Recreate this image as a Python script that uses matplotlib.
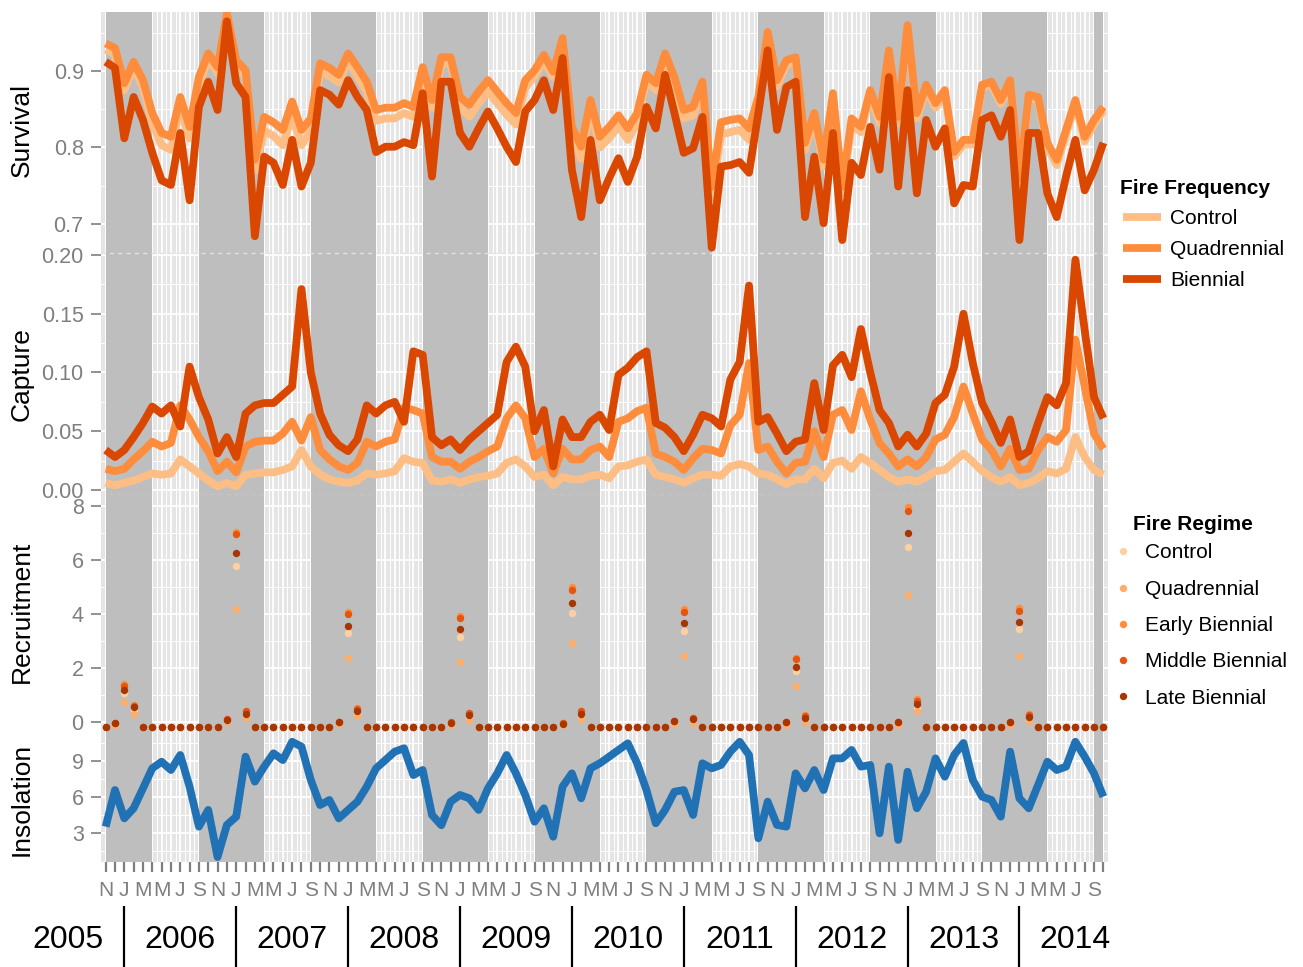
import numpy as np
import matplotlib
matplotlib.use('Agg')
import matplotlib.pyplot as plt
import matplotlib.transforms as mtransforms

plt.rcParams['font.family'] = ['Liberation Sans', 'DejaVu Sans']

# ---------------- data (monthly, Nov 2005 .. Oct 2014) ----------------
month_initials = ['N', 'D', 'J', 'F', 'M', 'A', 'M', 'J', 'J', 'A', 'S', 'O']
years = ['2005', '2006', '2007', '2008', '2009', '2010', '2011', '2012', '2013', '2014']
wet_seasons = [(0, 5), (10, 17), (22, 29), (34, 41), (46, 53), (58, 65),
               (70, 77), (82, 89), (94, 101), (106, 107)]

surv_control = [
    0.928, 0.922, 0.875, 0.905, 0.878, 0.832, 0.803, 0.797, 0.852, 0.812, 0.882, 0.915,
    0.897, 0.970, 0.908, 0.893, 0.770, 0.822, 0.815, 0.803, 0.842, 0.803, 0.822, 0.900,
    0.893, 0.885, 0.913, 0.893, 0.873, 0.835, 0.838, 0.838, 0.845, 0.840, 0.895, 0.852,
    0.910, 0.910, 0.853, 0.840, 0.858, 0.873, 0.858, 0.843, 0.830, 0.878, 0.893, 0.913,
    0.892, 0.935, 0.815, 0.785, 0.850, 0.800, 0.812, 0.828, 0.810, 0.832, 0.888, 0.875,
    0.915, 0.882, 0.838, 0.842, 0.878, 0.735, 0.817, 0.820, 0.823, 0.810, 0.855, 0.945,
    0.880, 0.908, 0.912, 0.797, 0.838, 0.775, 0.863, 0.740, 0.830, 0.820, 0.868, 0.832,
    0.920, 0.832, 0.955, 0.838, 0.876, 0.852, 0.870, 0.788, 0.804, 0.804, 0.878, 0.882,
    0.857, 0.883, 0.755, 0.865, 0.862, 0.800, 0.777, 0.817, 0.857, 0.808, 0.830, 0.848]
surv_quad = [
    0.936, 0.930, 0.884, 0.912, 0.888, 0.845, 0.819, 0.814, 0.866, 0.827, 0.892, 0.923,
    0.905, 0.975, 0.914, 0.901, 0.784, 0.840, 0.833, 0.823, 0.860, 0.823, 0.838, 0.910,
    0.904, 0.895, 0.923, 0.905, 0.886, 0.849, 0.852, 0.852, 0.858, 0.853, 0.905, 0.862,
    0.918, 0.918, 0.866, 0.856, 0.873, 0.888, 0.873, 0.858, 0.845, 0.888, 0.901, 0.921,
    0.899, 0.943, 0.827, 0.801, 0.862, 0.814, 0.827, 0.842, 0.825, 0.845, 0.895, 0.884,
    0.923, 0.892, 0.849, 0.853, 0.886, 0.749, 0.833, 0.836, 0.838, 0.825, 0.866, 0.951,
    0.888, 0.914, 0.918, 0.806, 0.845, 0.784, 0.871, 0.749, 0.838, 0.827, 0.875, 0.840,
    0.927, 0.840, 0.960, 0.845, 0.882, 0.858, 0.875, 0.794, 0.810, 0.810, 0.882, 0.886,
    0.862, 0.888, 0.760, 0.869, 0.866, 0.806, 0.784, 0.823, 0.862, 0.814, 0.836, 0.853]
surv_bien = [
    0.912, 0.904, 0.812, 0.866, 0.836, 0.793, 0.757, 0.751, 0.819, 0.731, 0.853, 0.886,
    0.849, 0.965, 0.884, 0.866, 0.684, 0.788, 0.780, 0.751, 0.810, 0.749, 0.780, 0.875,
    0.869, 0.856, 0.888, 0.866, 0.849, 0.794, 0.801, 0.801, 0.807, 0.803, 0.871, 0.762,
    0.886, 0.886, 0.819, 0.801, 0.825, 0.847, 0.825, 0.801, 0.781, 0.847, 0.862, 0.888,
    0.849, 0.917, 0.771, 0.709, 0.810, 0.731, 0.760, 0.786, 0.755, 0.788, 0.853, 0.825,
    0.895, 0.845, 0.793, 0.799, 0.840, 0.669, 0.775, 0.777, 0.781, 0.767, 0.845, 0.927,
    0.823, 0.879, 0.886, 0.709, 0.788, 0.701, 0.819, 0.679, 0.780, 0.764, 0.827, 0.771,
    0.892, 0.749, 0.875, 0.740, 0.836, 0.801, 0.825, 0.727, 0.751, 0.749, 0.836, 0.842,
    0.814, 0.849, 0.679, 0.819, 0.819, 0.740, 0.709, 0.762, 0.810, 0.744, 0.771, 0.806]

cap_control = [
    0.006, 0.004, 0.006, 0.008, 0.011, 0.014, 0.013, 0.014, 0.026, 0.020, 0.014, 0.008,
    0.003, 0.006, 0.003, 0.013, 0.014, 0.015, 0.015, 0.017, 0.020, 0.034, 0.020, 0.013,
    0.009, 0.007, 0.006, 0.008, 0.014, 0.013, 0.014, 0.016, 0.027, 0.024, 0.023, 0.008,
    0.007, 0.009, 0.006, 0.009, 0.011, 0.012, 0.014, 0.023, 0.026, 0.020, 0.011, 0.013,
    0.004, 0.011, 0.009, 0.009, 0.012, 0.013, 0.010, 0.020, 0.021, 0.024, 0.026, 0.013,
    0.011, 0.009, 0.006, 0.010, 0.013, 0.013, 0.012, 0.020, 0.022, 0.020, 0.014, 0.013,
    0.009, 0.005, 0.009, 0.009, 0.018, 0.010, 0.023, 0.025, 0.018, 0.028, 0.023, 0.017,
    0.011, 0.007, 0.009, 0.007, 0.011, 0.016, 0.017, 0.024, 0.031, 0.024, 0.016, 0.011,
    0.007, 0.011, 0.004, 0.006, 0.010, 0.016, 0.014, 0.018, 0.045, 0.028, 0.017, 0.013]
cap_quad = [
    0.018, 0.016, 0.018, 0.026, 0.033, 0.041, 0.037, 0.040, 0.072, 0.060, 0.045, 0.033,
    0.016, 0.024, 0.015, 0.037, 0.041, 0.042, 0.042, 0.048, 0.058, 0.042, 0.062, 0.034,
    0.026, 0.020, 0.017, 0.023, 0.041, 0.037, 0.041, 0.043, 0.070, 0.068, 0.065, 0.028,
    0.024, 0.024, 0.018, 0.024, 0.028, 0.033, 0.037, 0.061, 0.072, 0.061, 0.028, 0.035,
    0.014, 0.035, 0.026, 0.026, 0.034, 0.037, 0.028, 0.058, 0.061, 0.067, 0.070, 0.031,
    0.028, 0.024, 0.017, 0.027, 0.035, 0.034, 0.031, 0.055, 0.064, 0.108, 0.034, 0.037,
    0.024, 0.014, 0.023, 0.024, 0.050, 0.028, 0.064, 0.068, 0.051, 0.084, 0.060, 0.040,
    0.031, 0.020, 0.026, 0.020, 0.028, 0.043, 0.047, 0.062, 0.088, 0.065, 0.043, 0.034,
    0.020, 0.035, 0.017, 0.018, 0.034, 0.045, 0.041, 0.051, 0.128, 0.088, 0.048, 0.035]
cap_bien = [
    0.034, 0.028, 0.034, 0.045, 0.057, 0.071, 0.065, 0.072, 0.054, 0.105, 0.079, 0.060,
    0.031, 0.045, 0.028, 0.065, 0.072, 0.074, 0.074, 0.081, 0.088, 0.171, 0.100, 0.065,
    0.047, 0.038, 0.033, 0.043, 0.072, 0.065, 0.072, 0.075, 0.058, 0.118, 0.115, 0.045,
    0.038, 0.043, 0.034, 0.043, 0.050, 0.057, 0.064, 0.109, 0.122, 0.105, 0.050, 0.068,
    0.020, 0.060, 0.045, 0.045, 0.058, 0.064, 0.051, 0.098, 0.104, 0.113, 0.118, 0.057,
    0.053, 0.045, 0.033, 0.047, 0.064, 0.061, 0.054, 0.094, 0.109, 0.174, 0.058, 0.062,
    0.048, 0.033, 0.041, 0.043, 0.091, 0.051, 0.106, 0.115, 0.096, 0.137, 0.100, 0.068,
    0.057, 0.037, 0.047, 0.037, 0.048, 0.074, 0.081, 0.105, 0.150, 0.108, 0.074, 0.058,
    0.040, 0.060, 0.028, 0.033, 0.057, 0.079, 0.072, 0.091, 0.196, 0.136, 0.079, 0.061]

B = -0.2  # baseline recruitment level shown in the chart
rec_control = [
    B, -0.10, 1.06, 0.45, B, B, B, B, B, B, B, B,
    B, 0.05, 5.77, 0.20, B, B, B, B, B, B, B, B,
    B, -0.05, 3.28, 0.25, B, B, B, B, B, B, B, B,
    B, -0.10, 3.16, 0.15, B, B, B, B, B, B, B, B,
    B, -0.10, 4.05, 0.20, B, B, B, B, B, B, B, B,
    B, -0.05, 3.38, 0.00, B, B, B, B, B, B, B, B,
    B, -0.05, 1.90, 0.05, B, B, B, B, B, B, B, B,
    B, -0.05, 6.49, 0.50, B, B, B, B, B, B, B, B,
    B, -0.05, 3.43, 0.10, B, B, B, B, B, B, B, B]
rec_quad = [
    B, -0.10, 0.73, 0.30, B, B, B, B, B, B, B, B,
    B, 0.00, 4.17, 0.16, B, B, B, B, B, B, B, B,
    B, -0.08, 2.36, 0.22, B, B, B, B, B, B, B, B,
    B, -0.10, 2.23, 0.08, B, B, B, B, B, B, B, B,
    B, -0.10, 2.91, 0.11, B, B, B, B, B, B, B, B,
    B, -0.08, 2.44, -0.05, B, B, B, B, B, B, B, B,
    B, -0.10, 1.35, 0.00, B, B, B, B, B, B, B, B,
    B, -0.10, 4.69, 0.41, B, B, B, B, B, B, B, B,
    B, -0.10, 2.44, 0.05, B, B, B, B, B, B, B, B]
rec_early = [
    B, -0.05, 1.40, 0.63, B, B, B, B, B, B, B, B,
    B, 0.10, 7.05, 0.42, B, B, B, B, B, B, B, B,
    B, 0.00, 4.09, 0.50, B, B, B, B, B, B, B, B,
    B, 0.00, 3.93, 0.35, B, B, B, B, B, B, B, B,
    B, -0.05, 5.00, 0.42, B, B, B, B, B, B, B, B,
    B, 0.05, 4.20, 0.15, B, B, B, B, B, B, B, B,
    B, 0.00, 2.38, 0.25, B, B, B, B, B, B, B, B,
    B, 0.00, 7.95, 0.85, B, B, B, B, B, B, B, B,
    B, 0.00, 4.21, 0.28, B, B, B, B, B, B, B, B]
rec_middle = [
    B, -0.05, 1.33, 0.60, B, B, B, B, B, B, B, B,
    B, 0.10, 6.95, 0.40, B, B, B, B, B, B, B, B,
    B, 0.00, 3.99, 0.47, B, B, B, B, B, B, B, B,
    B, 0.00, 3.84, 0.32, B, B, B, B, B, B, B, B,
    B, -0.05, 4.89, 0.40, B, B, B, B, B, B, B, B,
    B, 0.05, 4.09, 0.13, B, B, B, B, B, B, B, B,
    B, 0.00, 2.33, 0.22, B, B, B, B, B, B, B, B,
    B, 0.00, 7.81, 0.79, B, B, B, B, B, B, B, B,
    B, 0.00, 4.12, 0.25, B, B, B, B, B, B, B, B]
rec_late = [
    B, -0.05, 1.19, 0.54, B, B, B, B, B, B, B, B,
    B, 0.08, 6.25, 0.30, B, B, B, B, B, B, B, B,
    B, 0.00, 3.57, 0.41, B, B, B, B, B, B, B, B,
    B, -0.02, 3.43, 0.26, B, B, B, B, B, B, B, B,
    B, -0.08, 4.40, 0.30, B, B, B, B, B, B, B, B,
    B, 0.04, 3.65, 0.10, B, B, B, B, B, B, B, B,
    B, 0.00, 2.05, 0.14, B, B, B, B, B, B, B, B,
    B, 0.00, 7.01, 0.67, B, B, B, B, B, B, B, B,
    B, 0.00, 3.69, 0.20, B, B, B, B, B, B, B, B]

insolation = [
    3.53, 6.58, 4.22, 5.06, 6.72, 8.39, 8.94, 8.25, 9.50, 6.86, 3.53, 4.92,
    1.00, 3.67, 4.36, 9.36, 7.28, 8.53, 9.64, 9.08, 10.60, 10.20, 7.42, 5.33,
    5.75, 4.22, 4.92, 5.61, 6.86, 8.39, 9.08, 9.78, 10.06, 7.83, 8.25, 4.50,
    3.65, 5.61, 6.17, 5.89, 4.92, 6.72, 7.97, 9.50, 7.97, 6.17, 3.94, 5.06,
    2.69, 6.86, 7.97, 5.89, 8.39, 8.81, 9.36, 9.92, 10.47, 8.81, 6.58, 3.81,
    4.92, 6.44, 6.58, 4.50, 8.81, 8.39, 8.67, 9.78, 10.60, 9.50, 2.56, 5.61,
    3.67, 3.53, 7.97, 6.72, 8.25, 6.58, 9.22, 9.22, 9.92, 8.53, 8.67, 2.97,
    8.53, 2.42, 8.11, 5.06, 6.44, 9.22, 7.69, 9.50, 10.50, 7.42, 6.03, 5.75,
    4.36, 9.78, 5.89, 5.06, 7.00, 8.94, 8.25, 8.53, 10.60, 9.36, 7.97, 6.03]

freq_labels = ['Control', 'Quadrennial', 'Biennial']
freq_colors = ['#FDBE85', '#FD8D3C', '#D94701']
regime_labels = ['Control', 'Quadrennial', 'Early Biennial', 'Middle Biennial', 'Late Biennial']
regime_colors = ['#FDD0A2', '#FDAE6B', '#FD8D3C', '#E6550D', '#A63603']
ins_color = '#2171B5'

x = np.arange(len(insolation))

# ---------------- layout ----------------
W, H = 1303, 967
fig = plt.figure(figsize=(W / 100, H / 100), dpi=100)


def fx(px):
    return px / W


def fy(py):
    return (H - py) / H


LEFT, RIGHT = 101, 1108
GREY_TXT = '#7F7F7F'


def make_ax(top, bottom):
    return fig.add_axes([fx(LEFT), fy(bottom), fx(RIGHT - LEFT), (bottom - top) / H])


def style(ax, ylim, majors, minors, labels):
    ax.set_facecolor('#E5E5E5')
    ax.set_xlim(-0.5, len(x) - 0.5)
    ax.set_ylim(*ylim)
    ax.set_yticks(majors)
    ax.set_yticklabels(labels)
    ax.set_yticks(minors, minor=True)
    ax.set_xticks(x)
    ax.set_xticks(x[:-1] + 0.5, minor=True)
    ax.grid(True, which='major', color='white', lw=1.3)
    ax.grid(True, which='minor', color='white', lw=0.7)
    ax.set_axisbelow(True)
    for s in ax.spines.values():
        s.set_visible(False)
    ax.tick_params(axis='y', which='major', length=7.5, width=1.2, color=GREY_TXT,
                   labelcolor=GREY_TXT, labelsize=15.5, pad=5)
    ax.tick_params(axis='y', which='minor', length=0)
    ax.tick_params(axis='x', which='both', length=0, labelbottom=False)
    for a, b in wet_seasons:
        ax.axvspan(a, b, color='#BEBEBE', lw=0, zorder=1)


ax_s = make_ax(12, 253)
ax_c = make_ax(253, 495)
ax_r = make_ax(495, 737)
ax_i = make_ax(737, 862)

style(ax_s, (0.6621, 0.9771), [0.7, 0.8, 0.9], [0.75, 0.85, 0.95], ['0.7', '0.8', '0.9'])
style(ax_c, (-0.0043, 0.2017), [0, 0.05, 0.10, 0.15, 0.20], [0.025, 0.075, 0.125, 0.175],
      ['0.00', '0.05', '0.10', '0.15', '0.20'])
style(ax_r, (-0.556, 8.407), [0, 2, 4, 6, 8], [1, 3, 5, 7], ['0', '2', '4', '6', '8'])
style(ax_i, (0.583, 11.0), [3, 6, 9], [1.5, 4.5, 7.5, 10.5], ['3', '6', '9'])

LW = 5.6
line_kw = dict(lw=LW, solid_joinstyle='round', solid_capstyle='butt', zorder=3)
freq_lines = []
for vals, col, lab in zip([surv_control, surv_quad, surv_bien], freq_colors, freq_labels):
    ln, = ax_s.plot(x, vals, color=col, label=lab, **line_kw)
    freq_lines.append(ln)
for vals, col in zip([cap_control, cap_quad, cap_bien], freq_colors):
    ax_c.plot(x, vals, color=col, **line_kw)

regime_handles = []
for vals, col, lab in zip([rec_control, rec_quad, rec_early, rec_middle, rec_late],
                          regime_colors, regime_labels):
    h, = ax_r.plot(x, vals, ls='none', marker='o', ms=5.3, mew=0, color=col, label=lab, zorder=3)
    regime_handles.append(h)

ax_i.plot(x, insolation, color=ins_color, **line_kw)

# dashed boundaries around the capture panel
for yy in (0, 1):
    ax_c.plot([0, 1], [yy, yy], transform=ax_c.transAxes, color='#E2E2E2', lw=1.0,
              ls=(0, (3, 3)), clip_on=False, zorder=2)

# bottom month axis
ax_i.tick_params(axis='x', which='major', length=7.5, width=1.6, color=GREY_TXT,
                 labelcolor=GREY_TXT, labelsize=15, pad=6, labelbottom=True)
ax_i.set_xticklabels([month_initials[i % 12] if i % 2 == 0 else '' for i in x])

# year labels and separators
blend = mtransforms.blended_transform_factory(ax_i.transData, fig.transFigure)
for k, yr in enumerate(years):
    ax_i.text(-4 + 12 * k, fy(940.5), yr, transform=blend, ha='center', va='center',
              fontsize=23, color='black', clip_on=False)
for k in range(len(years) - 1):
    xs = 2 + 12 * k
    ax_i.plot([xs, xs], [fy(906), fy(967)], transform=blend, color='black', lw=1.6,
              clip_on=False, solid_capstyle='butt')

# y axis titles
for txt, yc in [('Survival', 130), ('Capture', 374), ('Recruitment', 612), ('Insolation', 799)]:
    fig.text(fx(22), fy(yc), txt, rotation=90, ha='center', va='center',
             fontsize=19, color='black')

# legends
fig.text(fx(1120), fy(194.5), 'Fire Frequency', ha='left', va='baseline',
         fontsize=15, fontweight='bold', color='black')
fig.legend(handles=freq_lines, labels=freq_labels,
           loc='upper left', bbox_to_anchor=(fx(1123), fy(209.5)), frameon=False,
           fontsize=15, handlelength=1.82, handletextpad=0.43, labelspacing=0.56,
           borderpad=0, borderaxespad=0)
fig.text(fx(1133), fy(529.5), 'Fire Regime', ha='left', va='baseline',
         fontsize=15, fontweight='bold', color='black')
fig.legend(handles=regime_handles, labels=regime_labels,
           loc='upper left', bbox_to_anchor=(fx(1118), fy(543.5)), frameon=False,
           fontsize=15, handlelength=0.5, handletextpad=0.8, labelspacing=0.83,
           borderpad=0, borderaxespad=0)

fig.savefig('out.png', dpi=100)
